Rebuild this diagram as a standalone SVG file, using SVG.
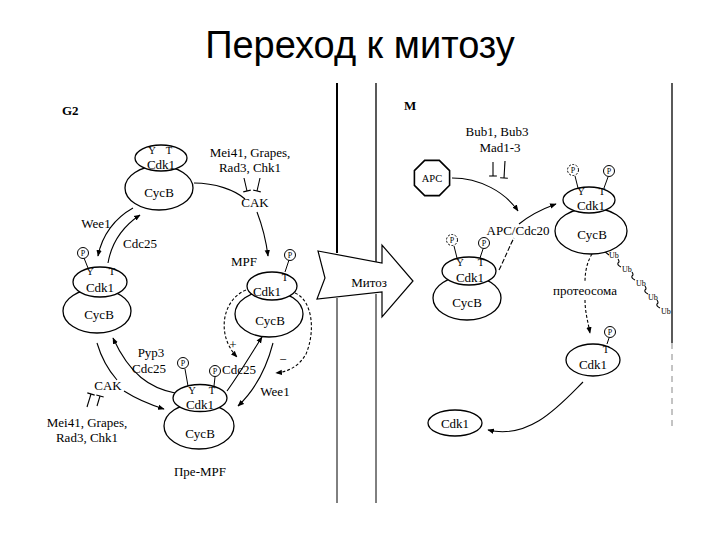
<svg xmlns="http://www.w3.org/2000/svg" width="720" height="540" viewBox="0 0 720 540">
<defs>
<style>
.t{font-family:"Liberation Serif","DejaVu Serif",serif;font-size:13px;text-anchor:middle;fill:#000}
.st{text-anchor:start}
.s{font-size:10.5px}
.p{font-size:8px}
.ub{font-family:"Liberation Serif",serif;font-size:8px;fill:#000}
.b{font-weight:bold}
.ln{fill:none;stroke:#000;stroke-width:1.1}
.ds{stroke-dasharray:3,2}
.nd{fill:#fff;stroke:#000;stroke-width:1.3}
.pc{fill:#fff;stroke:#000;stroke-width:1}
.pd{fill:#fff;stroke:#000;stroke-width:1;stroke-dasharray:2,1.5}
.ttl{font-family:"Liberation Sans",Arial,sans-serif;font-size:38px;text-anchor:middle;fill:#000}
</style>
<marker id="ah" viewBox="0 0 10 10" refX="9" refY="5" markerWidth="6" markerHeight="6" orient="auto"><path d="M0,1 L10,5 L0,9 z" fill="#000"/></marker>
<marker id="tb" viewBox="0 0 10 10" refX="5" refY="5" markerWidth="7" markerHeight="7" orient="auto"><path d="M5,0 V10" stroke="#000" stroke-width="1.4"/></marker>
</defs>
<rect width="720" height="540" fill="#fff"/>
<text class="ttl" x="360" y="58">Переход к митозу</text>

<g id="frame">
<line x1="337" y1="83" x2="337" y2="253" stroke="#000" stroke-width="2"/>
<line x1="337" y1="298" x2="337" y2="503" stroke="#000" stroke-width="1"/>
<line x1="376" y1="83" x2="376" y2="263" stroke="#000" stroke-width="1.3"/>
<line x1="376" y1="294" x2="376" y2="503" stroke="#000" stroke-width="1"/>
<line x1="672" y1="83" x2="672" y2="343" stroke="#000" stroke-width="1.3"/>
<line x1="672" y1="343" x2="672" y2="430" stroke="#888" stroke-width="1" stroke-dasharray="6,5"/>
<text class="t b st" x="62" y="115">G2</text>
<text class="t b st" x="404" y="110">M</text>
</g>

<g id="mitosis-arrow">
<polygon points="318,251 382,263 382,245 413,281 382,317 382,292 317,299 325,278" fill="#fff" stroke="#000" stroke-width="1.2"/>
<text class="t" x="369" y="287">Митоз</text>
</g>

<g id="connectors">
<path class="ln" d="M194,183 C215,183 235,190 245,199"/>
<path class="ln" d="M257,212 C262,225 266,240 268,256" marker-end="url(#ah)"/>
<path class="ln" d="M244,178 L247,191" marker-end="url(#tb)"/>
<path class="ln" d="M260,178 L257,191" marker-end="url(#tb)"/>
<path class="ln" d="M133,208 C115,218 102,235 98,256" marker-end="url(#ah)"/>
<path class="ln" d="M108,263 C112,240 125,225 140,215" marker-end="url(#ah)"/>
<path class="ln ds" d="M246,290 C222,300 216,335 237,357" marker-end="url(#ah)"/>
<path class="ln ds" d="M295,293 C312,300 316,330 306,354 C298,368 286,372 276,373" marker-end="url(#ah)"/>
<path class="ln" d="M227,391 C238,376 250,356 262,337" marker-end="url(#ah)"/>
<path class="ln" d="M273,343 C266,370 255,390 238,406" marker-end="url(#ah)"/>
<path class="ln" d="M175,393 C150,388 130,375 113,338" marker-end="url(#ah)"/>
<path class="ln" d="M97,343 C102,360 110,372 117,380"/>
<path class="ln" d="M124,391 C135,398 148,404 164,409" marker-end="url(#ah)"/>
<path class="ln" d="M87,407 L91,394" marker-end="url(#tb)"/>
<path class="ln" d="M97,406 L100,396" marker-end="url(#tb)"/>
<path class="ln" d="M452,178 C480,178 505,192 518,211" marker-end="url(#ah)"/>
<path class="ln" d="M493,162 L493,176" marker-end="url(#tb)"/>
<path class="ln" d="M505,161 L504,178" marker-end="url(#tb)"/>
<path class="ln" d="M499,270 C505,258 510,245 514,238" stroke-dasharray="5,2"/>
<path class="ln" d="M519,224 C530,215 545,208 556,204" marker-end="url(#ah)"/>
<path class="ln ds" d="M592,254 C587,262 585,272 585,282"/>
<path class="ln ds" d="M585,300 C585,312 588,322 590,333" marker-end="url(#ah)"/>
<path class="ln" d="M583,382 C560,405 530,440 488,430" marker-end="url(#ah)"/>
<path class="ln" d="M604,251 L609,255"/>
<path class="ln" d="M618,259 q2,3 0,4 q-1,2 3,4"/>
<path class="ln" d="M632,272 q2,3 0,4 q-1,2 3,4"/>
<path class="ln" d="M645,286 q2,3 0,4 q-1,2 3,4"/>
<path class="ln" d="M657,300 q2,3 0,4 q-1,2 3,4"/>
</g>

<g id="labels">
<text class="t" x="250" y="157">Mei41, Grapes,</text>
<text class="t" x="250" y="172">Rad3, Chk1</text>
<text class="t" x="255" y="207">CAK</text>
<text class="t" x="96" y="228">Wee1</text>
<text class="t" x="140" y="248">Cdc25</text>
<text class="t" x="151" y="357">Pyp3</text>
<text class="t" x="149" y="373">Cdc25</text>
<text class="t" x="108" y="390">CAK</text>
<text class="t" x="87" y="427">Mei41, Grapes,</text>
<text class="t" x="87" y="442">Rad3, Chk1</text>
<text class="t" x="233" y="349">+</text>
<text class="t" x="283" y="364">−</text>
<text class="t st" x="222" y="374">Cdc25</text>
<text class="t" x="275" y="396">Wee1</text>
<text class="t" x="244" y="266">MPF</text>
<text class="t" x="200" y="476">Пре-MPF</text>
<text class="t" x="497" y="136">Bub1, Bub3</text>
<text class="t" x="500" y="152">Mad1-3</text>
<text class="t" x="518" y="235">APC/Cdc20</text>
<text class="t" x="585" y="295">протеосома</text>
<text class="ub" x="609" y="258">Ub</text>
<text class="ub" x="622" y="272">Ub</text>
<text class="ub" x="636" y="286">Ub</text>
<text class="ub" x="648" y="300">Ub</text>
<text class="ub" x="661" y="314">Ub</text>
</g>

<g id="g2-top">
<ellipse class="nd" cx="159" cy="188" rx="34" ry="22"/>
<ellipse class="nd" cx="161" cy="158" rx="26" ry="13"/>
<text class="t s" x="152" y="154">Y</text>
<text class="t s" x="169" y="154">T</text>
<text class="t" x="161" y="168.5">Cdk1</text>
<text class="t" x="159" y="197">CycB</text>
</g>

<g id="g2-left">
<ellipse class="nd" cx="97" cy="311" rx="34" ry="22"/>
<line x1="84" y1="258" x2="88" y2="268" stroke="#000"/>
<ellipse class="nd" cx="100" cy="282" rx="27" ry="15"/>
<circle class="pc" cx="83" cy="253" r="5.5"/>
<text class="t p" x="83" y="256">P</text>
<text class="t s" x="90" y="275">Y</text>
<text class="t s" x="112" y="275">T</text>
<text class="t" x="100" y="292">Cdk1</text>
<text class="t" x="99" y="319">CycB</text>
</g>

<g id="mpf">
<ellipse class="nd" cx="269" cy="314" rx="34" ry="23"/>
<line x1="289" y1="260" x2="285" y2="272" stroke="#000"/>
<ellipse class="nd" cx="272" cy="286" rx="25" ry="14"/>
<circle class="pc" cx="290" cy="255" r="5.5"/>
<text class="t p" x="290" y="258">P</text>
<text class="t s" x="285" y="281">T</text>
<text class="t" x="267" y="296">Cdk1</text>
<text class="t" x="270" y="325">CycB</text>
</g>

<g id="pre-mpf">
<ellipse class="nd" cx="199" cy="426" rx="35" ry="23"/>
<line x1="185" y1="369" x2="188" y2="386" stroke="#000"/>
<line x1="215" y1="377" x2="214" y2="386" stroke="#000"/>
<ellipse class="nd" cx="200" cy="398" rx="27" ry="13.5"/>
<circle class="pc" cx="183" cy="363" r="5.5"/>
<text class="t p" x="183" y="366">P</text>
<circle class="pc" cx="215" cy="371" r="5.5"/>
<text class="t p" x="215" y="374">P</text>
<text class="t s" x="192" y="394">Y</text>
<text class="t s" x="212" y="394">T</text>
<text class="t" x="200" y="409">Cdk1</text>
<text class="t" x="200" y="438">CycB</text>
</g>

<g id="apc">
<polygon points="449.6,185.3 439.3,195.6 424.7,195.6 414.4,185.3 414.4,170.7 424.7,160.4 439.3,160.4 449.6,170.7" fill="#fff" stroke="#000" stroke-width="1.6"/>
<text class="t s" x="432" y="182">APC</text>
</g>

<g id="m-right">
<ellipse class="nd" cx="591" cy="231" rx="36" ry="23"/>
<line x1="575" y1="176" x2="578" y2="188" stroke="#000"/>
<line x1="608" y1="177" x2="604" y2="188" stroke="#000"/>
<ellipse class="nd" cx="589" cy="200" rx="26" ry="13"/>
<circle class="pd" cx="573" cy="170" r="5.5"/>
<text class="t p" x="573" y="173">P</text>
<circle class="pc" cx="609" cy="171" r="5.5"/>
<text class="t p" x="609" y="174">P</text>
<text class="t s" x="581" y="195">Y</text>
<text class="t s" x="602" y="195">T</text>
<text class="t" x="591" y="210">Cdk1</text>
<text class="t" x="592" y="239">CycB</text>
</g>

<g id="m-left">
<ellipse class="nd" cx="467" cy="298" rx="34" ry="22"/>
<line x1="454" y1="246" x2="457" y2="258" stroke="#000"/>
<line x1="483" y1="249" x2="480" y2="258" stroke="#000"/>
<ellipse class="nd" cx="469" cy="271" rx="27" ry="14"/>
<circle class="pd" cx="452" cy="240" r="5.5"/>
<text class="t p" x="452" y="243">P</text>
<circle class="pc" cx="484" cy="243" r="5.5"/>
<text class="t p" x="484" y="246">P</text>
<text class="t s" x="460" y="266">Y</text>
<text class="t s" x="481" y="266">T</text>
<text class="t" x="470" y="281.5">Cdk1</text>
<text class="t" x="467" y="307">CycB</text>
</g>

<g id="cdk1-p">
<line x1="609" y1="338" x2="607" y2="344" stroke="#000"/>
<ellipse class="nd" cx="593" cy="360" rx="27" ry="16"/>
<circle class="pc" cx="610" cy="332" r="5.5"/>
<text class="t p" x="610" y="335">P</text>
<text class="t s" x="606" y="353">T</text>
<text class="t" x="593" y="369">Cdk1</text>
</g>

<g id="cdk1-free">
<ellipse class="nd" cx="455" cy="423" rx="27" ry="13"/>
<text class="t" x="455" y="428">Cdk1</text>
</g>
</svg>
